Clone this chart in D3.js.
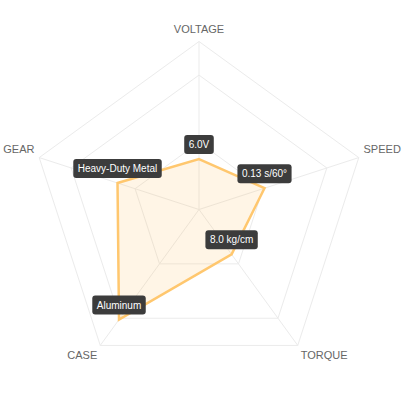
<!DOCTYPE html>
<html>
<head>
<meta charset="utf-8">
<script src="https://cdn.jsdelivr.net/npm/d3@7"></script>
<style>
  html, body { margin: 0; padding: 0; background: #fff; }
  svg { display: block; }
</style>
</head>
<body>
<div id="chart"></div>
<script>
const axes = ['VOLTAGE', 'SPEED', 'TORQUE', 'CASE', 'GEAR'];
const scores = [3.0, 4.1, 3.3, 8.1, 5.1];
const valueLabels = ['6.0V', '0.13 s/60°', '8.0 kg/cm', 'Aluminum', 'Heavy-Duty Metal'];
const gridLevels = [4, 8, 10];

const width = 404;
const height = 404;
const cx = 199;
const cy = 209.5;
const radius = 168;

const svg = d3.select('#chart')
  .append('svg')
  .attr('width', width)
  .attr('height', height);

const r = d3.scaleLinear()
  .domain([0, 10])
  .range([0, radius]);

const angle = d3.scalePoint()
  .domain(axes)
  .range([0, 2 * Math.PI * (axes.length - 1) / axes.length]);

function pt(name, v) {
  const a = angle(name) - Math.PI / 2;
  return [cx + r(v) * Math.cos(a), cy + r(v) * Math.sin(a)];
}

// grid rings
svg.append('g')
  .selectAll('polygon')
  .data(gridLevels)
  .join('polygon')
    .attr('points', lv => axes.map(a => pt(a, lv).join(',')).join(' '))
    .attr('fill', 'none')
    .attr('stroke', '#ebebeb')
    .attr('stroke-width', 1);

// spokes
svg.append('g')
  .selectAll('line')
  .data(axes)
  .join('line')
    .attr('x1', cx)
    .attr('y1', cy)
    .attr('x2', d => pt(d, 10)[0])
    .attr('y2', d => pt(d, 10)[1])
    .attr('stroke', '#ebebeb')
    .attr('stroke-width', 1);

// axis names
svg.append('g')
  .selectAll('text')
  .data(axes)
  .join('text')
    .attr('x', d => {
      const a = angle(d) - Math.PI / 2;
      return cx + (radius + 5) * Math.cos(a);
    })
    .attr('y', d => {
      const a = angle(d) - Math.PI / 2;
      const y = cy + (radius + 5) * Math.sin(a);
      return Math.sin(a) < 0 ? y - 3.5 : y + 10;
    })
    .attr('text-anchor', d => {
      const c = Math.cos(angle(d) - Math.PI / 2);
      return c > 0.1 ? 'start' : c < -0.1 ? 'end' : 'middle';
    })
    .attr('font-family', 'Liberation Sans, Arial, sans-serif')
    .attr('font-size', 11)
    .attr('fill', '#666')
    .text(d => d);

// data area
const line = d3.line().curve(d3.curveLinearClosed);

svg.append('path')
  .datum(axes.map((a, i) => pt(a, scores[i])))
  .attr('d', line)
  .attr('fill', 'rgba(255, 190, 90, 0.15)')
  .attr('stroke', '#ffc76e')
  .attr('stroke-width', 2.5)
  .attr('stroke-linejoin', 'miter');

// value tags
const tags = svg.append('g')
  .selectAll('g')
  .data(axes)
  .join('g')
    .attr('transform', (d, i) => {
      const p = pt(d, scores[i]);
      return `translate(${p[0]},${p[1] - 5})`;
    });

tags.append('text')
  .attr('text-anchor', 'middle')
  .attr('y', -6)
  .attr('font-family', 'Liberation Sans, Arial, sans-serif')
  .attr('font-size', 10)
  .attr('fill', '#fff')
  .text((d, i) => valueLabels[i]);

tags.insert('rect', 'text')
  .each(function () {
    const t = this.parentNode.querySelector('text');
    const w = t.getComputedTextLength() + 9;
    d3.select(this)
      .attr('x', -w / 2)
      .attr('y', -19)
      .attr('width', w)
      .attr('height', 19)
      .attr('rx', 3)
      .attr('fill', '#3c3c3c');
  });
</script>
</body>
</html>
